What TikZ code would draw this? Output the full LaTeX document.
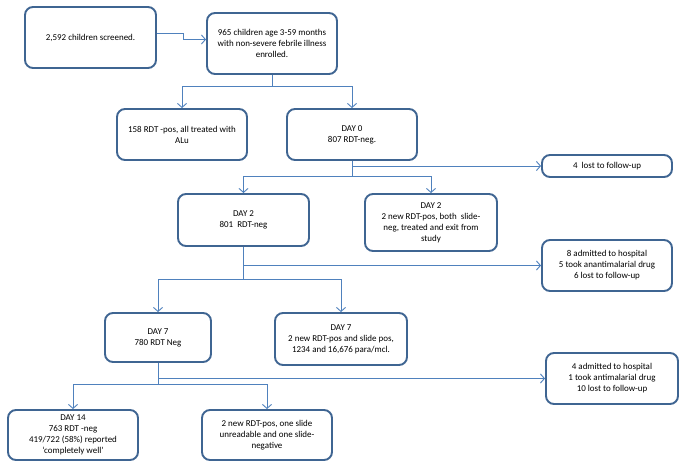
\documentclass[tikz,border=0pt]{standalone}
\usepackage{fontspec}
\setmainfont{Carlito}
\usetikzlibrary{arrows.meta}
\definecolor{boxc}{HTML}{3F6592}
\definecolor{linec}{HTML}{4F81BD}
\begin{document}
\begin{tikzpicture}[x=1bp,y=-1bp,
  box/.style={draw=boxc,line width=1.9bp,rounded corners=8bp,fill=white,align=center,
    font=\fontsize{9}{11}\selectfont,inner sep=2bp},
  conn/.style={draw=linec,line width=0.9bp},
  arr/.style={conn,-{Straight Barb[length=4bp,width=9bp,line width=0.9bp]}}]
\useasboundingbox (0,0) rectangle (685,466);
\fill[white] (0,0) rectangle (685,466);
% boxes: centre, width, height
\node[box,minimum width=131bp,minimum height=61bp] (b1) at (90.5,37.5) {2,592 children screened.};
\node[box,minimum width=130bp,minimum height=61bp] (b2) at (272,43.5) {965 children age 3-59 months\\with non-severe febrile illness\\enrolled.};
\node[box,minimum width=130bp,minimum height=51bp] (b3) at (182,134.5) {158 RDT -pos, all treated with\\ALu};
\node[box,minimum width=130bp,minimum height=51bp] (b4) at (352,134.5) {DAY 0\\807 RDT-neg.};
\node[box,minimum width=130bp,minimum height=22bp] (b7) at (607,166) {4\ \ lost to follow-up};
\node[box,minimum width=131bp,minimum height=52bp] (b5) at (243.5,220) {DAY 2\\801\ \ RDT-neg};
\node[box,minimum width=132bp,minimum height=57bp] (b6) at (431,222.5) {DAY 2\\2 new RDT-pos, both\ \ slide-\\neg, treated and exit from\\study};
\node[box,minimum width=130bp,minimum height=51bp] (b8) at (607,265.5) {8 admitted to hospital\\5 took anantimalarial drug\\6 lost to follow-up};
\node[box,minimum width=106bp,minimum height=49bp] (b9) at (158,337.5) {DAY 7\\780 RDT Neg};
\node[box,minimum width=132bp,minimum height=52bp] (b10) at (341,339) {DAY 7\\2 new RDT-pos and slide pos,\\1234 and 16,676 para/mcl.};
\node[box,minimum width=132bp,minimum height=51bp] (b13) at (612,378.5) {4 admitted to hospital\\1 took antimalarial drug\\10 lost to follow-up};
\node[box,minimum width=130bp,minimum height=50bp] (b11) at (73,435) {DAY 14\\763 RDT -neg\\419/722 (58\%) reported\\‘completely well’};
\node[box,minimum width=130bp,minimum height=50bp] (b12) at (267,435) {2 new RDT-pos, one slide\\unreadable and one slide-\\negative};
% connectors
\draw[arr] ([yshift=4bp]b1.east) -- ++(26,0) |- ([yshift=4bp]b2.west);
\coordinate (j1) at (272,86);
\draw[conn] (b2.south) -- (j1);
\draw[arr] (j1) -| (b3.north);
\draw[arr] (j1) -| (b4.north);
\coordinate (j2) at (352,176);
\coordinate (k2) at (352,166);
\draw[conn] (b4.south) -- (j2);
\draw[arr] (k2) -- (b7.west);
\draw[arr] (j2) -| (b5.north);
\draw[arr] (j2) -| (b6.north);
\coordinate (j3) at (243.5,279);
\coordinate (k3) at (243.5,265.5);
\draw[conn] (b5.south) -- (j3);
\draw[arr] (k3) -- (b8.west);
\draw[arr] (j3) -| (b9.north);
\draw[arr] (j3) -| (b10.north);
\coordinate (j4) at (158,384);
\coordinate (k4) at (158,378.5);
\draw[conn] (b9.south) -- (j4);
\draw[arr] (k4) -- (b13.west);
\draw[arr] (j4) -| (b11.north);
\draw[arr] (j4) -| (b12.north);
\end{tikzpicture}
\end{document}
